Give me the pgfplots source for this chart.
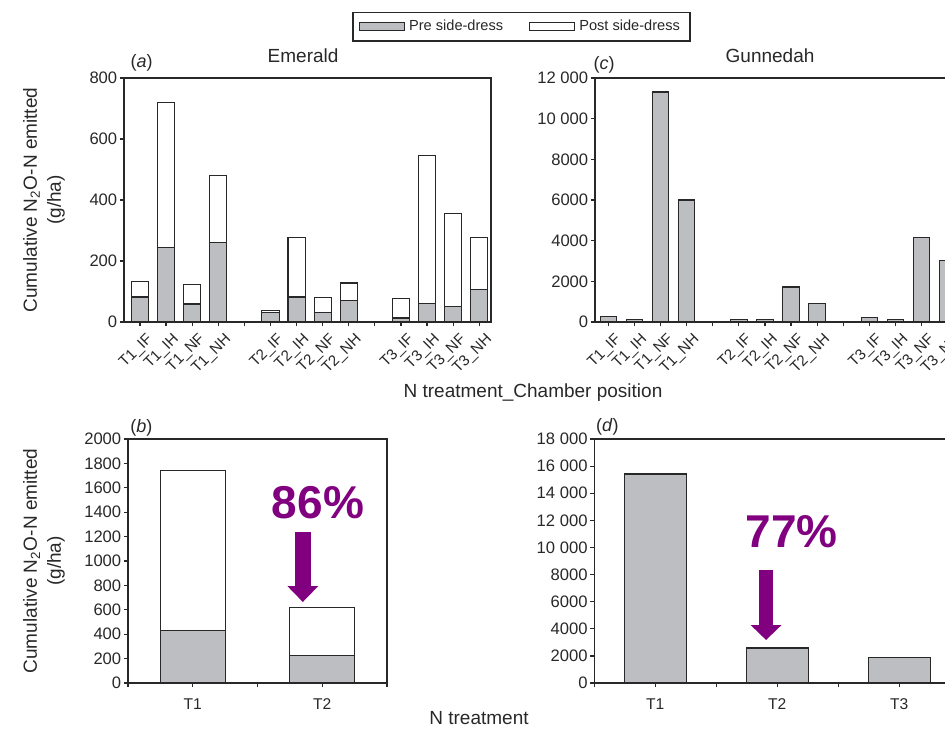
\documentclass[border=0pt]{standalone}
\usepackage{fontspec}
\setmainfont{Liberation Sans}
\usepackage{pgfplots}
\pgfplotsset{compat=1.18}
\usetikzlibrary{arrows.meta}
\definecolor{barfill}{RGB}{189,190,193}
\definecolor{edge}{RGB}{40,40,40}
\definecolor{ann}{RGB}{128,0,128}

\pgfplotsset{
  base/.style={
    scale only axis,
    clip=false,
    axis line style={edge, line width=0.6pt},
    every tick/.style={edge, line width=0.6pt},
    tick align=outside,
    major tick length=2pt,
    xtick pos=bottom, ytick pos=left,
    ymin=0,
    scaled y ticks=false,
    /pgf/number format/assume math mode=true,
    /pgf/number format/1000 sep={\ },
    /pgf/number format/min exponent for 1000 sep=4,
    yticklabel style={font=\fontsize{8.3}{10}\selectfont, inner sep=1.2pt, text=edge},
    xticklabel style={text=edge},
    title style={font=\fontsize{9.5}{11}\selectfont, text=edge, yshift=-6pt},
    ylabel style={align=center, font=\fontsize{9.5}{12}\selectfont, text=edge},
  },
  catx/.style={
    xtick={0,...,13},
    xticklabels={T1\_IF,T1\_IH,T1\_NF,T1\_NH,{},T2\_IF,T2\_IH,T2\_NF,T2\_NH,{},T3\_IF,T3\_IH,T3\_NF,T3\_NH},
    xticklabel style={rotate=45, anchor=north east, inner sep=1pt, font=\fontsize{7.6}{9}\selectfont, yshift=-3pt, xshift=1pt},
  },
  pre/.style={fill=barfill, draw=edge, line width=0.55pt,
    legend image code/.code={\draw[fill=barfill, draw=edge, line width=0.55pt] (0pt,-2pt) rectangle (22.5pt,2pt);}},
  post/.style={fill=white, draw=edge, line width=0.55pt,
    legend image code/.code={\draw[fill=white, draw=edge, line width=0.55pt] (0pt,-2pt) rectangle (22.5pt,2pt);}},
}

\begin{document}
\begin{tikzpicture}

% ---------------- (a) Emerald ----------------
\begin{axis}[base, catx,
  at={(62pt,-161pt)}, anchor=south west,
  width=183.5pt, height=122pt,
  ybar stacked, bar width=0.66,
  xmin=-0.613, xmax=13.45,
  ymax=800, ytick={0,200,...,800},
  title={Emerald}, title style={at={(axis description cs:0.488,1.09)}, anchor=center},
  ylabel={Cumulative N\textsubscript{2}O-N emitted\\(g/ha)},
  ylabel style={at={(axis description cs:-0.218,0.5)}, anchor=center},
  legend columns=2,
  legend style={at={(1.083,1.211)}, anchor=center, draw=edge, line width=0.6pt,
    font=\fontsize{7.3}{9}\selectfont, text=edge, inner xsep=3pt, inner ysep=1.8pt,
    /tikz/every even column/.append style={column sep=11pt}},
]
\addplot[pre] coordinates {(0,82) (1,243) (2,59) (3,260) (5,31) (6,82) (7,30) (8,72) (10,13) (11,60) (12,51) (13,107)};
\addlegendentry{Pre side-dress}
\addplot[post] coordinates {(0,50) (1,477) (2,64) (3,221) (5,8) (6,194) (7,51) (8,56) (10,65) (11,485) (12,306) (13,169)};
\addlegendentry{Post side-dress}
\node[font=\fontsize{9}{11}\selectfont, text=edge] at (axis description cs:0.048,1.061) {(\textit{a})};
\end{axis}

% ---------------- (c) Gunnedah ----------------
\begin{axis}[base, catx,
  at={(297.5pt,-161pt)}, anchor=south west,
  width=183.5pt, height=122pt,
  ybar stacked, bar width=0.63,
  xmin=-0.51, xmax=13.55,
  ymax=12000, ytick={0,2000,...,12000},
  title={Gunnedah}, title style={at={(axis description cs:0.477,1.09)}, anchor=center},
]
\addplot[pre] coordinates {(0,280) (1,131) (2,11311) (3,6000) (5,131) (6,131) (7,1721) (8,902) (10,213) (11,131) (12,4164) (13,3016)};
\node[font=\fontsize{9}{11}\selectfont, text=edge] at (axis description cs:0.025,1.053) {(\textit{c})};
\end{axis}

% ---------------- (b) Emerald totals ----------------
\begin{axis}[base,
  at={(64pt,-341.5pt)}, anchor=south west,
  width=129.5pt, height=122pt,
  ybar stacked, bar width=0.5,
  xmin=-0.5, xmax=1.5,
  xtick={0,1}, xticklabels={T1,T2},
  extra x ticks={-0.5,0.5,1.5}, extra x tick labels={},
  xticklabel style={font=\fontsize{7.8}{9}\selectfont, yshift=-2.5pt},
  ymax=2000, ytick={0,200,...,2000},
  ylabel={Cumulative N\textsubscript{2}O-N emitted\\(g/ha)},
  ylabel style={at={(axis description cs:-0.324,0.5)}, anchor=center},
]
\addplot[pre] coordinates {(0,433) (1,227)};
\addplot[post] coordinates {(0,1312) (1,395)};
\node[font=\fontsize{9}{11}\selectfont, text=edge] at (axis description cs:0.052,1.045) {(\textit{b})};
\draw[ann, line width=8pt, -{Triangle[width=15pt,length=8pt]}] (axis cs:0.85,1238) -- (axis cs:0.85,664);
\node[ann, font=\bfseries\fontsize{23}{26}\selectfont] at (axis cs:0.967,1475) {86\%};
\end{axis}

% ---------------- (d) Gunnedah totals ----------------
\begin{axis}[base,
  at={(297.15pt,-341.5pt)}, anchor=south west,
  width=183pt, height=122pt,
  ybar stacked, bar width=0.51,
  xmin=-0.5, xmax=2.5,
  xtick={0,1,2}, xticklabels={T1,T2,T3},
  extra x ticks={-0.5,0.5,1.5,2.5}, extra x tick labels={},
  xticklabel style={font=\fontsize{7.8}{9}\selectfont, yshift=-2.5pt},
  ymax=18000, ytick={0,2000,...,18000},
]
\addplot[pre] coordinates {(0,15420) (1,2580) (2,1900)};
\node[font=\fontsize{9}{11}\selectfont, text=edge] at (axis description cs:0.036,1.051) {(\textit{d})};
\draw[ann, line width=7.2pt, -{Triangle[width=15pt,length=7.5pt]}] (axis cs:0.908,8336) -- (axis cs:0.908,3172);
\node[ann, font=\bfseries\fontsize{23}{26}\selectfont] at (axis cs:1.117,11139) {77\%};
\end{axis}

\node[font=\fontsize{9.5}{11}\selectfont, text=edge] at (266.5pt,-196.5pt) {N treatment\_Chamber position};
\node[font=\fontsize{9.5}{11}\selectfont, text=edge] at (239.5pt,-359pt) {N treatment};

\pgfresetboundingbox
\path[use as bounding box] (0pt,0pt) rectangle (472.5pt,-364.5pt);
\end{tikzpicture}
\end{document}
